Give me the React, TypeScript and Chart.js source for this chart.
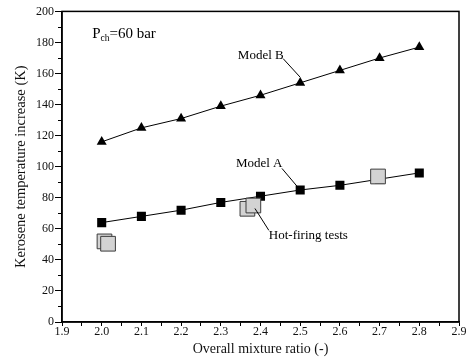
import React, { useEffect, useRef } from 'react';
import { Chart, registerables } from 'chart.js';
Chart.register(...registerables);

// Data
const mixtureRatios = [2.0, 2.1, 2.2, 2.3, 2.4, 2.5, 2.6, 2.7, 2.8];
const modelB = [116, 125, 131, 139, 146, 154, 162, 170, 177];
const modelA = [64, 68, 72, 77, 81, 85, 88, 92, 96];
const testRatios = [2.007, 2.016, 2.367, 2.382, 2.696];
const testValues = [51.9, 50.4, 72.9, 75.0, 93.7];
const xTickLabels = ['1.9', '2.0', '2.1', '2.2', '2.3', '2.4', '2.5', '2.6', '2.7', '2.8', '2.9'];
const yTickLabels = ['0', '20', '40', '60', '80', '100', '120', '140', '160', '180', '200'];

// Annotations (in data coordinates)
const labelModelB = { text: 'Model B', x: 2.343, y: 171.5, from: [2.457, 169.6], to: [2.5, 157.6] };
const labelModelA = { text: 'Model A', x: 2.338, y: 102, from: [2.454, 98.9], to: [2.494, 86.8] };
const labelTests = { text: 'Hot-firing tests', x: 2.421, y: 55.8, from: [2.386, 73.1], to: [2.421, 59] };
const pressureLabel = { x: 1.976, y: 182.6 };

const FONT = '"Liberation Serif", "Times New Roman", serif';

const framePlugin = {
  id: 'frame',
  afterDraw(chart: any) {
    const { ctx, chartArea: a, scales } = chart;
    const xs = scales.x, ys = scales.y;
    ctx.save();
    // minor y ticks
    ctx.strokeStyle = '#000';
    ctx.lineWidth = 1;
    ys.ticks.forEach((t: any) => {
      if (Math.round(t.value) % 20 !== 0) {
        const py = Math.round(ys.getPixelForValue(t.value)) + 0.5;
        ctx.beginPath();
        ctx.moveTo(a.left - 4, py);
        ctx.lineTo(a.left, py);
        ctx.stroke();
      }
    });
    // frame
    ctx.lineWidth = 1.5;
    ctx.strokeStyle = '#000';
    ctx.strokeRect(a.left, a.top, a.right - a.left, a.bottom - a.top);

    // annotations
    ctx.fillStyle = '#000';
    ctx.textBaseline = 'middle';
    ctx.textAlign = 'left';
    ctx.font = `13px ${FONT}`;
    ctx.lineWidth = 1;
    [labelModelB, labelModelA, labelTests].forEach((l) => {
      ctx.fillText(l.text, xs.getPixelForValue(l.x), ys.getPixelForValue(l.y));
      ctx.beginPath();
      ctx.moveTo(xs.getPixelForValue(l.from[0]), ys.getPixelForValue(l.from[1]));
      ctx.lineTo(xs.getPixelForValue(l.to[0]), ys.getPixelForValue(l.to[1]));
      ctx.stroke();
    });
    // P_ch = 60 bar
    ctx.textBaseline = 'alphabetic';
    let px = xs.getPixelForValue(pressureLabel.x);
    const py = ys.getPixelForValue(pressureLabel.y);
    ctx.font = `15px ${FONT}`;
    ctx.fillText('P', px, py);
    px += ctx.measureText('P').width;
    ctx.font = `9.5px ${FONT}`;
    ctx.fillText('ch', px, py + 2.5);
    px += ctx.measureText('ch').width;
    ctx.font = `15px ${FONT}`;
    ctx.fillText('=60 bar', px, py);
    ctx.restore();
  },
};

export default function App() {
  const ref = useRef<HTMLCanvasElement>(null);
  useEffect(() => {
    document.body.style.margin = '0';
    const canvas = ref.current!;
    const chart = new Chart(canvas, {
      type: 'line',
      data: {
        datasets: [
          {
            type: 'scatter',
            label: 'Hot-firing tests',
            data: testRatios.map((x, i) => ({ x, y: testValues[i] })),
            pointStyle: 'rect',
            pointRadius: 10.4,
            backgroundColor: '#d3d3d3',
            borderColor: '#3c3c3c',
            borderWidth: 1,
            showLine: false,
            order: 0,
          } as any,
          {
            label: 'Model A',
            data: mixtureRatios.map((x, i) => ({ x, y: modelA[i] })),
            pointStyle: 'rect',
            pointRadius: 6.4,
            pointBackgroundColor: '#000',
            pointBorderWidth: 0,
            borderColor: '#000',
            borderWidth: 1,
            order: 1,
          },
          {
            label: 'Model B',
            data: mixtureRatios.map((x, i) => ({ x, y: modelB[i] })),
            pointStyle: 'triangle',
            pointRadius: 5.8,
            pointBackgroundColor: '#000',
            pointBorderWidth: 0,
            borderColor: '#000',
            borderWidth: 1,
            order: 2,
          },
        ],
      },
      options: {
        animation: false,
        responsive: false,
        layout: { padding: { top: 11, right: 13, left: 0, bottom: 0 } },
        plugins: { legend: { display: false }, tooltip: { enabled: false } },
        scales: {
          x: {
            type: 'linear',
            min: 1.9,
            max: 2.9,
            afterFit: (s: any) => { s.height = 39; },
            border: { display: true, color: '#000', width: 1.5 },
            grid: { drawOnChartArea: false, drawTicks: true, tickLength: 4, tickColor: '#000', tickWidth: 1 },
            ticks: {
              stepSize: 0.05,
              autoSkip: false,
              maxRotation: 0,
              padding: -1,
              color: '#111',
              font: { family: FONT, size: 12 },
              callback: (v: any) => {
                const k = Math.round(Number(v) * 100);
                if (k % 10 !== 0) return '';
                const idx = Math.round((k - 190) / 10);
                return xTickLabels[idx] ?? '';
              },
            },
            title: {
              display: true,
              text: 'Overall mixture ratio (-)',
              color: '#111',
              font: { family: FONT, size: 14 },
              padding: { top: 0, bottom: 3 },
            },
          },
          y: {
            min: 0,
            max: 200,
            afterFit: (s: any) => { s.width = 62; },
            border: { display: true, color: '#000', width: 1.5 },
            grid: {
              drawOnChartArea: false,
              drawTicks: true,
              tickLength: 7,
              tickWidth: 1,
              tickColor: (c: any) => (Math.round(c.tick.value) % 20 === 0 ? '#000' : 'rgba(0,0,0,0)'),
            },
            ticks: {
              stepSize: 10,
              autoSkip: false,
              padding: 1,
              color: '#111',
              font: { family: FONT, size: 12 },
              callback: (v: any) => {
                const n = Math.round(Number(v));
                return n % 20 === 0 ? yTickLabels[n / 20] : '';
              },
            },
            title: {
              display: true,
              text: 'Kerosene temperature increase (K)',
              color: '#111',
              font: { family: FONT, size: 14.5 },
              padding: { top: 12, bottom: 0 },
            },
          },
        },
      },
      plugins: [framePlugin],
    });
    return () => chart.destroy();
  }, []);
  return <canvas ref={ref} width={472} height={361} style={{ display: 'block' }} />;
}
